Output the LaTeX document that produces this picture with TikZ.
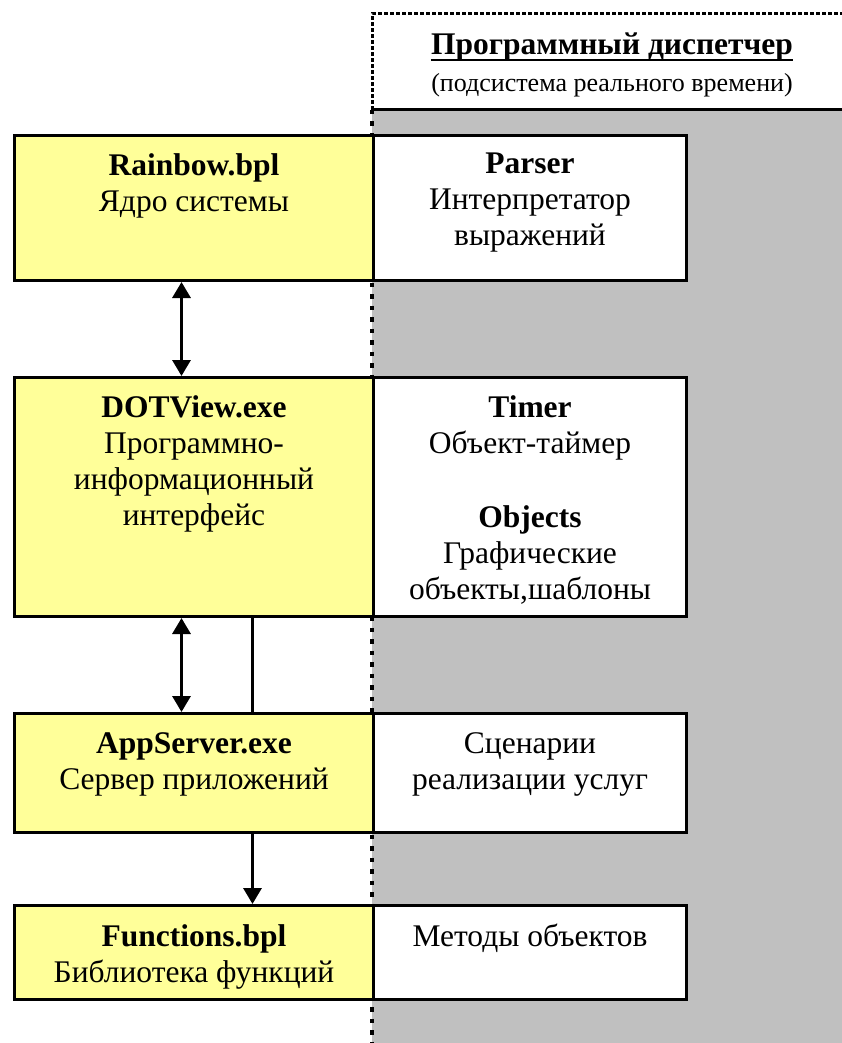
\documentclass[tikz,border=0pt]{standalone}
\usepackage{fontspec}
\setmainfont{Liberation Serif}
\usetikzlibrary{arrows.meta}
\definecolor{ylw}{HTML}{FFFF99}
\definecolor{gry}{HTML}{C0C0C0}
\begin{document}
\begin{tikzpicture}[x=1pt,y=-1pt,
  ybox/.style={draw, line width=3pt, fill=ylw, anchor=north west, inner sep=0pt},
  wbox/.style={draw, line width=3pt, fill=white, anchor=north west, inner sep=0pt},
  txt/.style={anchor=north, align=center, inner sep=0pt, font=\fontsize{31.5}{36}\selectfont},
  link/.style={line width=3.2pt},
  arrowhd/.style={-{Triangle[width=18pt,length=16pt]}},
  dblarrow/.style={{Triangle[width=18pt,length=16pt]}-{Triangle[width=18pt,length=16pt]}},
  hdrborder/.style={line width=3pt, dash pattern=on 4pt off 2pt},
  dotline/.style={line width=4.5pt, dash pattern=on 4.5pt off 7pt}
]
\useasboundingbox (0,0) rectangle (842,1043);
% gray background of the dispatcher
\fill[gry] (372,110) rectangle (860,1050);
% header box
\fill[white] (372,14) rectangle (860,110);
\draw[line width=3pt] (372,110) -- (860,110);
\draw[hdrborder] (372,110) -- (372,14) -- (860,14);
\coordinate (dtop) at (372,110);
\coordinate (dbot) at (372,1050);
\draw[dotline] (dtop) -- (dbot);

\node[anchor=base, inner sep=0pt, font=\fontsize{31.5}{36}\selectfont\bfseries] (hdr1) at (612,55) {Программный диспетчер};
\draw[line width=2pt] ([yshift=-5pt]hdr1.base west) -- ([yshift=-5pt]hdr1.base east);
\node[anchor=base, inner sep=0pt, font=\fontsize{26}{30}\selectfont] (hdr2) at (612,92) {(подсистема реального времени)};

% left boxes
\node[ybox, minimum width=359pt, minimum height=145pt] (rb) at (13,134) {};
\node[ybox, minimum width=359pt, minimum height=239pt] (dv) at (13,376) {};
\node[ybox, minimum width=359pt, minimum height=119pt] (as) at (13,712) {};
\node[ybox, minimum width=359pt, minimum height=94pt] (fn) at (13,904) {};
% right boxes
\node[wbox, minimum width=313pt, minimum height=145pt] (rbr) at (372,134) {};
\node[wbox, minimum width=313pt, minimum height=239pt] (dvr) at (372,376) {};
\node[wbox, minimum width=313pt, minimum height=119pt] (asr) at (372,712) {};
\node[wbox, minimum width=313pt, minimum height=94pt] (fnr) at (372,904) {};

% texts
\node[txt] (trb) at ([yshift=-19pt]rb.north) {\textbf{Rainbow.bpl}\\Ядро системы};
\node[txt] (tdv) at ([yshift=-19pt]dv.north) {\textbf{DOTView.exe}\\Программно-\\информационный\\интерфейс};
\node[txt] (tas) at ([yshift=-20pt]as.north) {\textbf{AppServer.exe}\\Сервер приложений};
\node[txt] (tfn) at ([yshift=-20pt]fn.north) {\textbf{Functions.bpl}\\Библиотека функций};

\node[txt] (trbr) at ([yshift=-19pt]rbr.north) {\textbf{Parser}\\Интерпретатор\\выражений};
\node[txt] (tdvr) at ([yshift=-19pt]dvr.north) {\textbf{Timer}\\Объект-таймер\\[38pt]\textbf{Objects}\\Графические\\объекты,шаблоны};
\node[txt] (tasr) at ([yshift=-20pt]asr.north) {Сценарии\\реализации услуг};
\node[txt] (tfnr) at ([yshift=-20pt]fnr.north) {Методы объектов};

% connectors
\draw[link, dblarrow] ([xshift=-12.5pt]rb.south) -- ([xshift=-12.5pt]dv.north);
\draw[link, dblarrow] ([xshift=-12.5pt]dv.south) -- ([xshift=-12.5pt]as.north);
\draw[link] ([xshift=58.5pt,yshift=3pt]dv.south) -- ([xshift=58.5pt]as.north);
\draw[link, arrowhd] ([xshift=58.5pt]as.south) -- ([xshift=58.5pt]fn.north);
\end{tikzpicture}
\end{document}
